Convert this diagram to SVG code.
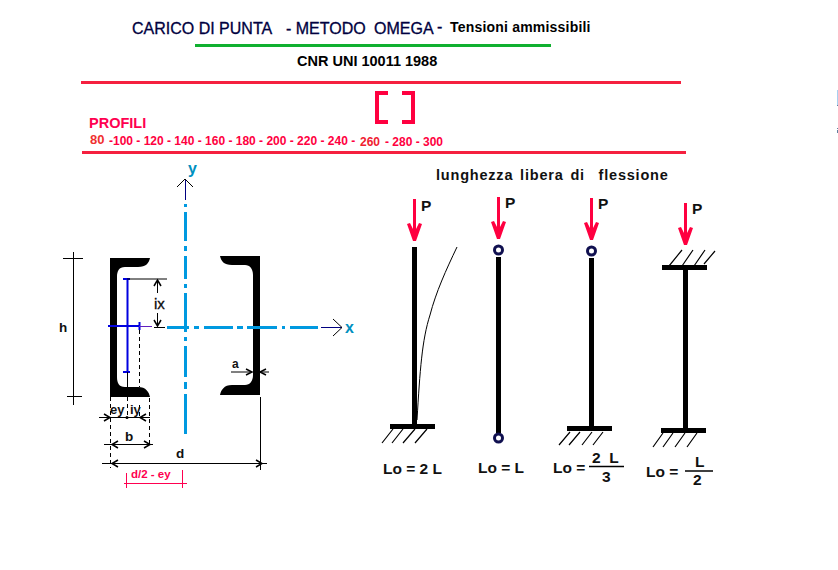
<svg xmlns="http://www.w3.org/2000/svg" width="838" height="570" viewBox="0 0 838 570">
<style>
text{font-family:"Liberation Sans",Arial,sans-serif;fill:#000}
.b{font-weight:bold}
.t{font-size:16px;fill:#000040;stroke:#000040;stroke-width:.3}
.p{fill:#ff0040;font-weight:bold;font-size:12px}
.dim{font-size:13.500px;font-weight:bold;fill:#111}
.lo{font-size:15.500px;font-weight:bold;fill:#111}
.red{stroke:#f5203f;stroke-width:3;fill:none}
.l{stroke:#000;stroke-width:1;fill:none}
.h{stroke:#000;stroke-width:1.500;fill:none}
.d{stroke:#000;stroke-width:1;fill:none;stroke-dasharray:4 3}
.ax{stroke:#0099e0;stroke-width:3;fill:none}
.thin{stroke:#000080;stroke-width:1;fill:none}
.bl{stroke:#0000e0;fill:none;stroke-width:2}
.col{stroke:#000;stroke-width:5;fill:none}
.base{stroke:#000;stroke-width:5;fill:none}
.hatch{stroke:#000;stroke-width:1.200;fill:none}
.load{stroke:#ff0040;stroke-width:3;fill:none}
.head{fill:#ff0040}
.hinge{stroke:#101050;stroke-width:3;fill:#fff}
.ch{fill:#000}
.mag{stroke:#ff0050;stroke-width:1;fill:none}
</style>
<rect width="838" height="570" fill="#fff"/>
<path d="M837.500 90V105" stroke="#a8d0f0" fill="none"/>
<path d="M837.500 105V106M837.500 128V129M837.500 130V133" stroke="#6080a0" fill="none"/>
<g id="title">
<text class="t" x="132" y="34">CARICO DI PUNTA</text>
<text class="t" x="286" y="34">- METODO</text>
<text class="t" x="374" y="34">OMEGA</text>
<text class="t" x="437" y="32">-</text>
<text class="b" x="450" y="32" style="font-size:14px;letter-spacing:.2px">Tensioni ammissibili</text>
<path d="M195 45.500H551" stroke="#10b030" stroke-width="3" fill="none"/>
<text class="b" x="297" y="66" style="font-size:14.500px">CNR UNI 10011 1988</text>
<path class="red" d="M81 82.500H681"/>
<path class="red" d="M82 152.500H686"/>
</g>
<g id="profili">
<text x="89" y="128" style="font-size:14.500px;font-weight:bold;fill:#ff0050">PROFILI</text>
<text class="p" x="90" y="144" style="font-size:13px;fill:#f03030">80</text>
<text class="p" x="109" y="145">-100 - 120 - 140 - 160 - 180 - 200 - 220 - 240 -</text>
<text class="p" x="360" y="146" style="fill:#f02030">260</text>
<text class="p" x="385" y="146">- 280 - 300</text>
<path d="M388 93H377V122H388M402 93H413V122H402" stroke="#ff0040" stroke-width="4" fill="none"/>
</g>
<g id="channel-left">
<path class="ch" d="M110 258H150C149 263 146 267 138 267H125C119 267 117 271 117 277V377C117 383 119 387 125 387H138C146 387 149 392 150 397H110Z"/>
</g>
<g id="channel-right">
<path class="ch" d="M260 256H220C221 261 224 265 232 265H245C250 265 253 269 253 275V375C253 381 250 385 245 385H232C224 385 221 390 220 395H260Z"/>
</g>
<g id="connectors">
<path class="ax" d="M185.500 204V207M185.500 212V241M185.500 246V251M185.500 256V279M185.500 284V288M185.500 293V332M185.500 337V341M185.500 346V377M185.500 382V389M185.500 394V434"/>
<path class="ax" d="M167 327.500H189M194 327.500H199M204 327.500H233M237 327.500H243M247 327.500H277M282 327.500H285M290 327.500H318"/>
<path class="thin" d="M185.500 180V200M321 327.500H342"/>
<path class="l" d="M177 187L185 179L193 187M333 319L342 327.500L333 336"/>
<path class="l" d="M73.500 252V405M63 258.500H83M67 396.500H82"/>
<path class="bl" d="M127.500 279V372M108 326H139M123 279H130M123 372H130"/>
<path class="bl" d="M139.500 322V330"/>
<path d="M139 326.500H152" stroke="#6020c0" fill="none"/>
<path class="l" d="M127 279H167M127.500 372V387"/>
<path class="l" d="M157.500 280V293M157.500 313V326M154 327.500H165"/>
<path class="h" d="M154 286L157.500 280L161 286M154 320L157.500 326L161 320"/>
<path class="d" d="M139.500 330V387"/>
<path class="d" d="M110.500 397V468M127.500 397V418M139.500 405V418M149.500 398V447"/>
<path class="l" d="M99 417.500H150"/>
<path class="h" d="M104 414L110 417.500L104 421M146 414L140 417.500L146 421"/>
<circle cx="127" cy="417.500" r="1.500" fill="#000"/>
<path class="l" d="M104 444.500H153"/>
<path class="h" d="M118 441L112 444.500L118 448M144 441L150 444.500L144 448"/>
<path class="l" d="M102 463.500H267"/>
<path class="h" d="M118 460L112 463.500L118 467M256 460L262 463.500L256 467"/>
<path class="l" d="M260.500 397V466"/>
<path class="d" d="M260.500 466V470"/>
<path class="l" d="M231 372H251M260 372H269"/>
<path class="h" d="M246 369L252 372L246 375M266 369L260 372L266 375"/>
<path class="mag" d="M126.500 473V488M182.500 470V488M124 483.500H187"/>
</g>
<g id="section-labels">
<text x="188" y="174" style="font-size:16px;font-weight:bold;fill:#0090c0">y</text>
<text x="345" y="333" style="font-size:16px;font-weight:bold;fill:#0090c0">x</text>
<text class="dim" x="59" y="332">h</text>
<text class="dim" x="154" y="309" style="font-size:15px;font-weight:normal;stroke:#000;stroke-width:.3">ix</text>
<text class="dim" x="232" y="368" style="font-size:12px">a</text>
<text class="dim" x="110" y="414" style="font-size:13px">ey</text>
<text class="dim" x="130" y="414" style="font-size:13px">iy</text>
<text class="dim" x="125" y="441">b</text>
<text class="dim" x="176" y="458">d</text>
<text class="b" x="131" y="478" style="font-size:11.500px;fill:#ff0050">d/2 - ey</text>
</g>
<text id="heading" class="b" x="436" y="180" xml:space="preserve" style="font-size:14.500px;letter-spacing:.8px;word-spacing:2px;fill:#111">lunghezza libera di  flessione</text>
<g id="column-1">
<path class="load" d="M414.500 199V236"/>
<path class="head" d="M407 224L410 223L414.500 232L419 223L422 224L416 241H413Z"/>
<text class="lo" x="421" y="211">P</text>
<path class="col" d="M414.500 247V424"/>
<path class="base" d="M390 426.500H435"/>
<path class="hatch" d="M382 443L393 429M392 443L403 429M403 443L415 429M415 443L427 429"/>
<path d="M417 420C420 370 422 340 430 315C436 292 446 270 457 247" fill="none" stroke="#000" stroke-width="1"/>
<text class="lo" x="383" y="474">Lo = 2 L</text>
</g>
<g id="column-2">
<path class="load" d="M498.500 197V234"/>
<path class="head" d="M491 222L494 221L498.500 230L503 221L506 222L500 239H497Z"/>
<text class="lo" x="505" y="208">P</text>
<path class="col" d="M498.500 257V433"/>
<circle class="hinge" cx="498.500" cy="250" r="4"/>
<circle class="hinge" cx="498.500" cy="438" r="4"/>
<text class="lo" x="478" y="473">Lo = L</text>
</g>
<g id="column-3">
<path class="load" d="M591.500 198V235"/>
<path class="head" d="M584 223L587 222L591.500 231L596 222L599 223L593 240H590Z"/>
<text class="lo" x="598" y="209">P</text>
<path class="col" d="M591.500 258V427"/>
<circle class="hinge" cx="591.500" cy="251" r="4"/>
<path class="base" d="M567 428.500H612"/>
<path class="hatch" d="M559 445L570 432M569 445L580 432M582 445L592 432M593 445L603 432"/>
<text class="lo" x="553" y="473">Lo =</text>
<text class="lo" x="592" y="463" xml:space="preserve">2  L</text>
<path class="h" d="M589 466.500H624"/>
<text class="lo" x="602" y="482">3</text>
</g>
<g id="column-4">
<path class="load" d="M685.500 203V240"/>
<path class="head" d="M678 228L681 227L685.500 236L690 227L693 228L687 245H684Z"/>
<text class="lo" x="692" y="214">P</text>
<path class="base" d="M662 267.500H707"/>
<path class="hatch" d="M669 266L682 250M682 266L693 250M694 266L705 250M704 264L715 251"/>
<path class="col" d="M685.500 268V430"/>
<path class="base" d="M661 430.500H706"/>
<path class="hatch" d="M653 447L663 433M663 447L673 433M675 447L685 433M687 447L697 433"/>
<text class="lo" x="646" y="477">Lo =</text>
<text class="lo" x="695" y="467">L</text>
<path class="h" d="M685 471H713"/>
<text class="lo" x="693" y="485">2</text>
</g>
</svg>
